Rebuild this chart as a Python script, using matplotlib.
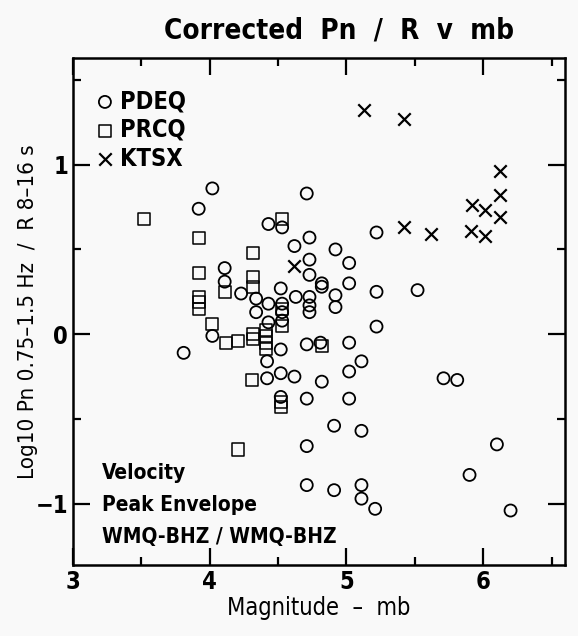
import matplotlib
matplotlib.use("Agg")
import matplotlib.pyplot as plt
from matplotlib.ticker import MultipleLocator

# --- Datos (mb, log10 Pn/R) ---
PDEQ_MB = [4.02, 3.92, 4.71, 4.43, 4.53, 4.73, 4.62, 4.92, 4.73, 5.02,
           4.73, 5.02, 4.82, 4.82, 5.22, 5.22, 5.52, 4.11, 4.11, 4.23,
           4.52, 4.92, 4.92, 4.73, 4.73, 4.73, 4.34, 4.34, 4.43, 4.53,
           4.53, 4.53, 4.63, 4.43, 5.22, 4.02, 3.81, 4.52, 4.71, 4.81,
           5.02, 4.42, 4.42, 4.52, 4.62, 4.82, 5.02, 5.11, 4.52, 4.71,
           5.02, 5.71, 5.81, 4.91, 5.11, 4.71, 6.10, 5.90, 4.71, 4.91,
           5.11, 5.11, 5.21, 6.20]
PDEQ_LOG = [0.86, 0.74, 0.83, 0.65, 0.63, 0.57, 0.52, 0.50, 0.44, 0.42,
            0.35, 0.30, 0.30, 0.28, 0.60, 0.25, 0.26, 0.39, 0.31, 0.24,
            0.27, 0.23, 0.16, 0.22, 0.17, 0.13, 0.21, 0.13, 0.18, 0.18,
            0.13, 0.08, 0.22, 0.07, 0.045, -0.01, -0.11, -0.09, -0.06, -0.05,
            -0.05, -0.16, -0.26, -0.23, -0.25, -0.28, -0.22, -0.16, -0.37, -0.38,
            -0.38, -0.26, -0.27, -0.54, -0.57, -0.66, -0.65, -0.83, -0.89, -0.92,
            -0.89, -0.97, -1.03, -1.04]

PRCQ_MB = [3.52, 3.92, 4.32, 4.53, 3.92, 4.32, 4.11, 4.32, 3.92, 3.92,
           3.92, 4.02, 4.12, 4.21, 4.32, 4.41, 4.41, 4.41, 4.41, 4.32,
           4.31, 4.52, 4.52, 4.21, 4.82, 4.53, 4.53]
PRCQ_LOG = [0.68, 0.57, 0.48, 0.68, 0.36, 0.34, 0.25, 0.28, 0.22, 0.19,
            0.15, 0.06, -0.05, -0.04, -0.03, 0.025, -0.01, -0.05, -0.09, 0.0,
            -0.27, -0.40, -0.43, -0.68, -0.07, 0.15, 0.05]

KTSX_MB = [5.13, 5.42, 6.12, 6.12, 5.92, 6.01, 6.12, 5.91, 6.01, 5.42, 5.62, 4.62]
KTSX_LOG = [1.32, 1.27, 0.96, 0.82, 0.76, 0.73, 0.69, 0.61, 0.58, 0.63, 0.59, 0.40]

NOTE_LINES = ["Velocity", "Peak Envelope", "WMQ-BHZ / WMQ-BHZ"]

# --- Estilo ---
BG = "#f9f9f9"
plt.rcParams["font.family"] = "DejaVu Sans"
plt.rcParams["font.stretch"] = "condensed"
plt.rcParams["font.weight"] = "bold"

fig = plt.figure(figsize=(5.78, 6.36), dpi=100, facecolor=BG)
ax = fig.add_axes([0.126, 0.112, 0.852, 0.797], facecolor=BG)

ax.scatter(PDEQ_MB, PDEQ_LOG, s=75, marker="o", facecolors="none",
           edgecolors="black", linewidths=1.3, label="PDEQ")
ax.scatter(PRCQ_MB, PRCQ_LOG, s=75, marker="s", facecolors="none",
           edgecolors="black", linewidths=1.1, label="PRCQ")
ax.scatter(KTSX_MB, KTSX_LOG, s=80, marker="x", color="black",
           linewidths=1.6, label="KTSX")

ax.set_xlim(3, 6.6)
ax.set_ylim(-1.36, 1.63)
ax.xaxis.set_major_locator(MultipleLocator(1))
ax.xaxis.set_minor_locator(MultipleLocator(0.5))
ax.yaxis.set_major_locator(MultipleLocator(1))
ax.yaxis.set_minor_locator(MultipleLocator(0.5))
ax.tick_params(which="both", direction="in", top=True, right=True,
               width=1.6, labelsize=17)
ax.tick_params(which="major", length=12)
ax.tick_params(which="minor", length=6)
for sp in ax.spines.values():
    sp.set_linewidth(1.8)

ax.set_title("Corrected  Pn  /  R  v  mb", fontsize=20, pad=14,
             fontweight="bold", x=0.54)
ax.set_xlabel("Magnitude  –  mb", fontsize=17, labelpad=2)
ax.set_ylabel("Log10 Pn 0.75–1.5 Hz  /  R 8–16 s", fontsize=16)
ax.yaxis.set_label_coords(-0.07, 0.5)

leg = ax.legend(loc="upper left", bbox_to_anchor=(0.022, 0.957),
                borderaxespad=0, frameon=False, fontsize=17,
                handletextpad=0.15, labelspacing=0.2,
                handlelength=1.0, scatterpoints=1)

ax.text(0.06, 0.20, "\n".join(NOTE_LINES), transform=ax.transAxes,
        fontsize=15, va="top", ha="left", linespacing=1.75)

fig.savefig("out.png", dpi=100, facecolor=BG)
